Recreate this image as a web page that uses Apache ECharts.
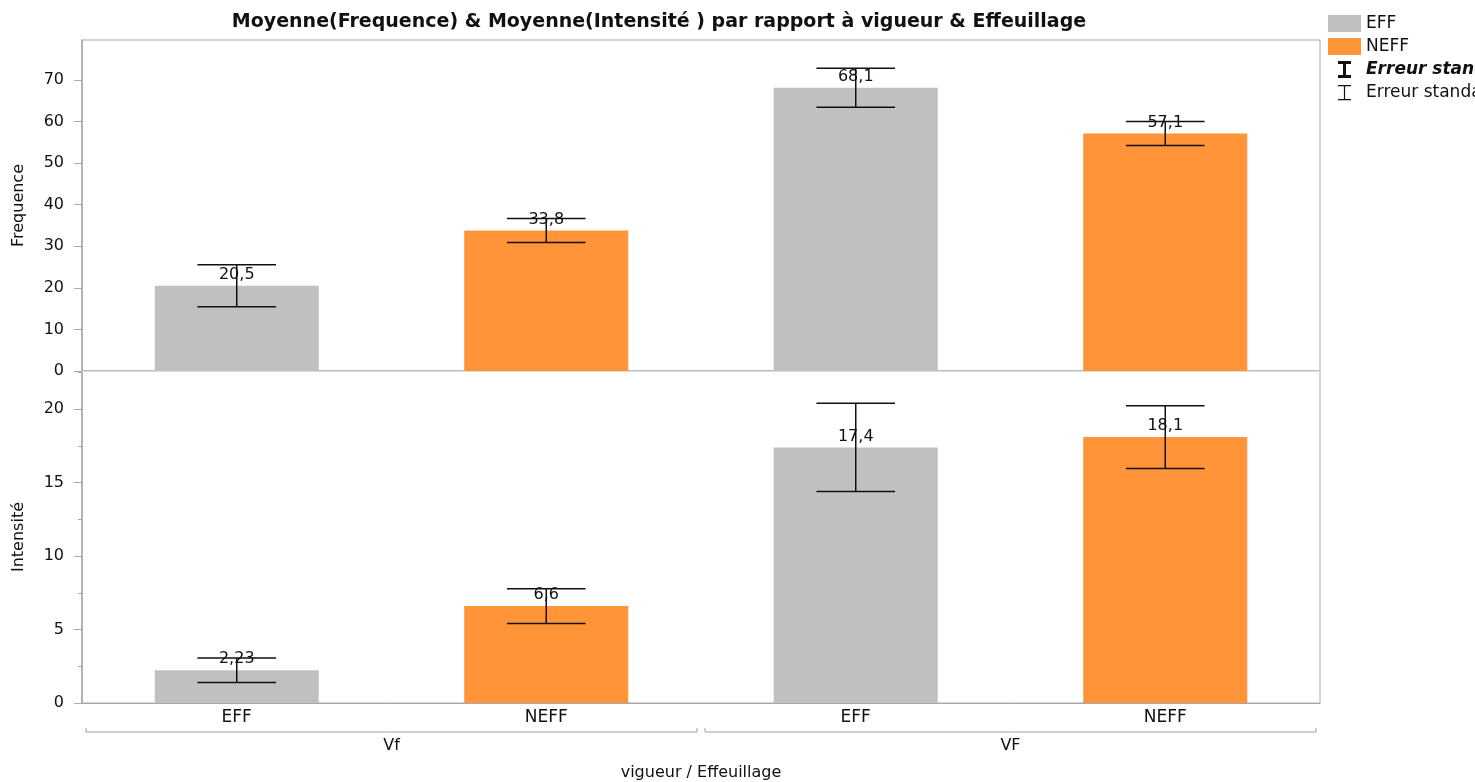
<!DOCTYPE html>
<html><head><meta charset="utf-8">
<script src="https://cdn.jsdelivr.net/npm/echarts@6/dist/echarts.min.js"></script>
<style>html,body{margin:0;padding:0;background:#fff}#c{width:1475px;height:782px}</style>
</head><body><div id="c"></div>
<script>
const categories = ['EFF', 'NEFF', 'EFF', 'NEFF'];
const groups = ['Vf', 'VF'];
const effFlag = [true, false, true, false];
const freqMean = [20.5, 33.8, 68.1, 57.1];
const freqErr = [5.05, 2.9, 4.7, 2.9];
const intMean = [2.23, 6.6, 17.4, 18.1];
const intErr = [0.84, 1.18, 3.0, 2.13];
const freqTicks = [0, 10, 20, 30, 40, 50, 60, 70];
const intTicks = [0, 5, 10, 15, 20];

const FONT = 'DejaVu Sans';
const GRAY = '#c0c0c0', ORANGE = '#ff9538', AXIS = '#a8a8a8';

const chart = echarts.init(document.getElementById('c'), null, {renderer: 'canvas'});

function pick(arr, eff) { return arr.map((v, i) => effFlag[i] === eff ? v : '-'); }
function fmt(p) { return String(p.value).replace('.', ','); }

function errRender(params, api) {
  const x = api.value(0), m = api.value(1), e = api.value(2);
  const hi = api.coord([x, m + e]);
  const lo = api.coord([x, m - e]);
  const bw = api.size([1, 0])[0];
  const hw = bw * 0.127;
  const style = {stroke: '#111', lineWidth: 1.5};
  return {type: 'group', children: [
    {type: 'line', shape: {x1: hi[0] - hw, y1: hi[1], x2: hi[0] + hw, y2: hi[1]}, style},
    {type: 'line', shape: {x1: hi[0], y1: hi[1], x2: lo[0], y2: lo[1]}, style},
    {type: 'line', shape: {x1: lo[0] - hw, y1: lo[1], x2: lo[0] + hw, y2: lo[1]}, style}
  ]};
}

function bracketRender(params, api) {
  const c = api.coord([api.value(0), 0]);
  const bw = api.size([1, 0])[0];
  const cs = params.coordSys;
  const y = cs.y + cs.height + 29;
  const x1 = c[0] - bw / 2 + 4, x2 = c[0] + bw / 2 - 4;
  return {type: 'polyline', shape: {points: [[x1, y - 4], [x1, y], [x2, y], [x2, y - 4]]},
    style: {stroke: '#a0a0a0', lineWidth: 1, fill: null}};
}

const thickI = 'path://M0 0M33 17M10 0H23V3H18V14H23V17H10V14H15V3H10Z';
const thinI = 'path://M0 0M33 17M10 1H23V2.3H17.1V15H23V16.3H10V15H15.9V2.3H10Z';

const barLabel = {show: true, position: 'top', distance: 3, formatter: fmt, color: '#111', fontSize: 16, fontFamily: FONT};

const option = {
  animation: false,
  backgroundColor: '#fff',
  title: {
    text: 'Moyenne(Frequence) & Moyenne(Intensité ) par rapport à vigueur & Effeuillage',
    left: 659, top: 13, textAlign: 'center', padding: 0,
    textStyle: {fontSize: 19, fontWeight: 'bold', fontFamily: FONT, color: '#111'}
  },
  legend: {
    orient: 'vertical', left: 1328, top: 15, padding: 0, itemWidth: 33, itemHeight: 17, itemGap: 6,
    selectedMode: false,
    textStyle: {fontSize: 17, fontFamily: FONT, color: '#111'},
    data: [
      {name: 'EFF', icon: 'rect'},
      {name: 'NEFF', icon: 'rect'},
      {name: 'Erreur standard', icon: thickI, itemStyle: {color: '#111'}, textStyle: {fontWeight: 'bold', fontStyle: 'italic'}},
      {name: 'Erreur standard ', icon: thinI, itemStyle: {color: '#111'}}
    ]
  },
  grid: [
    {left: 82, right: 155, top: 40, height: 331, show: true, borderColor: AXIS, borderWidth: 1, backgroundColor: 'transparent'},
    {left: 82, right: 155, top: 371, height: 333, show: true, borderColor: AXIS, borderWidth: 1, backgroundColor: 'transparent'}
  ],
  xAxis: [
    {type: 'category', gridIndex: 0, data: categories, position: 'bottom', z: 2,
      axisLine: {lineStyle: {color: '#dcdcdc', width: 1}}, axisTick: {show: false}, axisLabel: {show: false}},
    {type: 'category', gridIndex: 1, data: categories, position: 'bottom',
      axisLine: {lineStyle: {color: AXIS, width: 1}}, axisTick: {show: false},
      axisLabel: {margin: 6, fontSize: 17, fontFamily: FONT, color: '#111'}},
    {type: 'category', gridIndex: 1, data: groups, position: 'bottom',
      axisLine: {show: false}, axisTick: {show: false},
      axisLabel: {margin: 35, fontSize: 16, fontFamily: FONT, color: '#111'},
      name: 'vigueur / Effeuillage', nameLocation: 'middle', nameGap: 62,
      nameTextStyle: {fontSize: 16, fontFamily: FONT, color: '#111'}}
  ],
  yAxis: [
    {type: 'value', gridIndex: 0, min: 0, max: 79.6,
      axisLine: {show: true, lineStyle: {color: AXIS, width: 1.5}},
      axisTick: {show: true, length: 8, lineStyle: {color: AXIS}, customValues: freqTicks},
      axisLabel: {customValues: freqTicks, margin: 18, fontSize: 16, fontFamily: FONT, color: '#111'},
      splitLine: {show: false},
      name: 'Frequence', nameLocation: 'middle', nameGap: 55,
      nameTextStyle: {fontSize: 16, fontFamily: FONT, color: '#111'}},
    {type: 'value', gridIndex: 1, min: 0, max: 22.6, interval: 5,
      axisLine: {show: true, lineStyle: {color: AXIS, width: 1.5}},
      axisTick: {show: true, length: 8, lineStyle: {color: AXIS}},
      minorTick: {show: true, splitNumber: 2, length: 4, lineStyle: {color: AXIS}},
      axisLabel: {showMaxLabel: false, margin: 18, fontSize: 16, fontFamily: FONT, color: '#111'},
      splitLine: {show: false},
      name: 'Intensité', nameLocation: 'middle', nameGap: 55,
      nameTextStyle: {fontSize: 16, fontFamily: FONT, color: '#111'}}
  ],
  series: [
    {name: 'EFF', type: 'bar', xAxisIndex: 0, yAxisIndex: 0, data: pick(freqMean, true), barWidth: '53%', barGap: '-100%',
      itemStyle: {color: GRAY}, label: barLabel},
    {name: 'NEFF', type: 'bar', xAxisIndex: 0, yAxisIndex: 0, data: pick(freqMean, false), barWidth: '53%', barGap: '-100%',
      itemStyle: {color: ORANGE}, label: barLabel},
    {name: 'EFF', type: 'bar', xAxisIndex: 1, yAxisIndex: 1, data: pick(intMean, true), barWidth: '53%', barGap: '-100%',
      itemStyle: {color: GRAY}, label: barLabel},
    {name: 'NEFF', type: 'bar', xAxisIndex: 1, yAxisIndex: 1, data: pick(intMean, false), barWidth: '53%', barGap: '-100%',
      itemStyle: {color: ORANGE}, label: barLabel},
    {name: 'Erreur standard', type: 'custom', xAxisIndex: 0, yAxisIndex: 0, z: 5,
      itemStyle: {color: '#111'}, renderItem: errRender, encode: {x: 0, y: 1},
      data: freqMean.map((m, i) => [i, m, freqErr[i]])},
    {name: 'Erreur standard ', type: 'custom', xAxisIndex: 1, yAxisIndex: 1, z: 5,
      itemStyle: {color: '#111'}, renderItem: errRender, encode: {x: 0, y: 1},
      data: intMean.map((m, i) => [i, m, intErr[i]])},
    {name: 'groups', type: 'custom', xAxisIndex: 2, yAxisIndex: 1, silent: true, clip: false,
      renderItem: bracketRender, encode: {x: 0, y: 1},
      data: groups.map((g, i) => [i, 0])}
  ]
};
chart.setOption(option);
</script>
</body></html>
